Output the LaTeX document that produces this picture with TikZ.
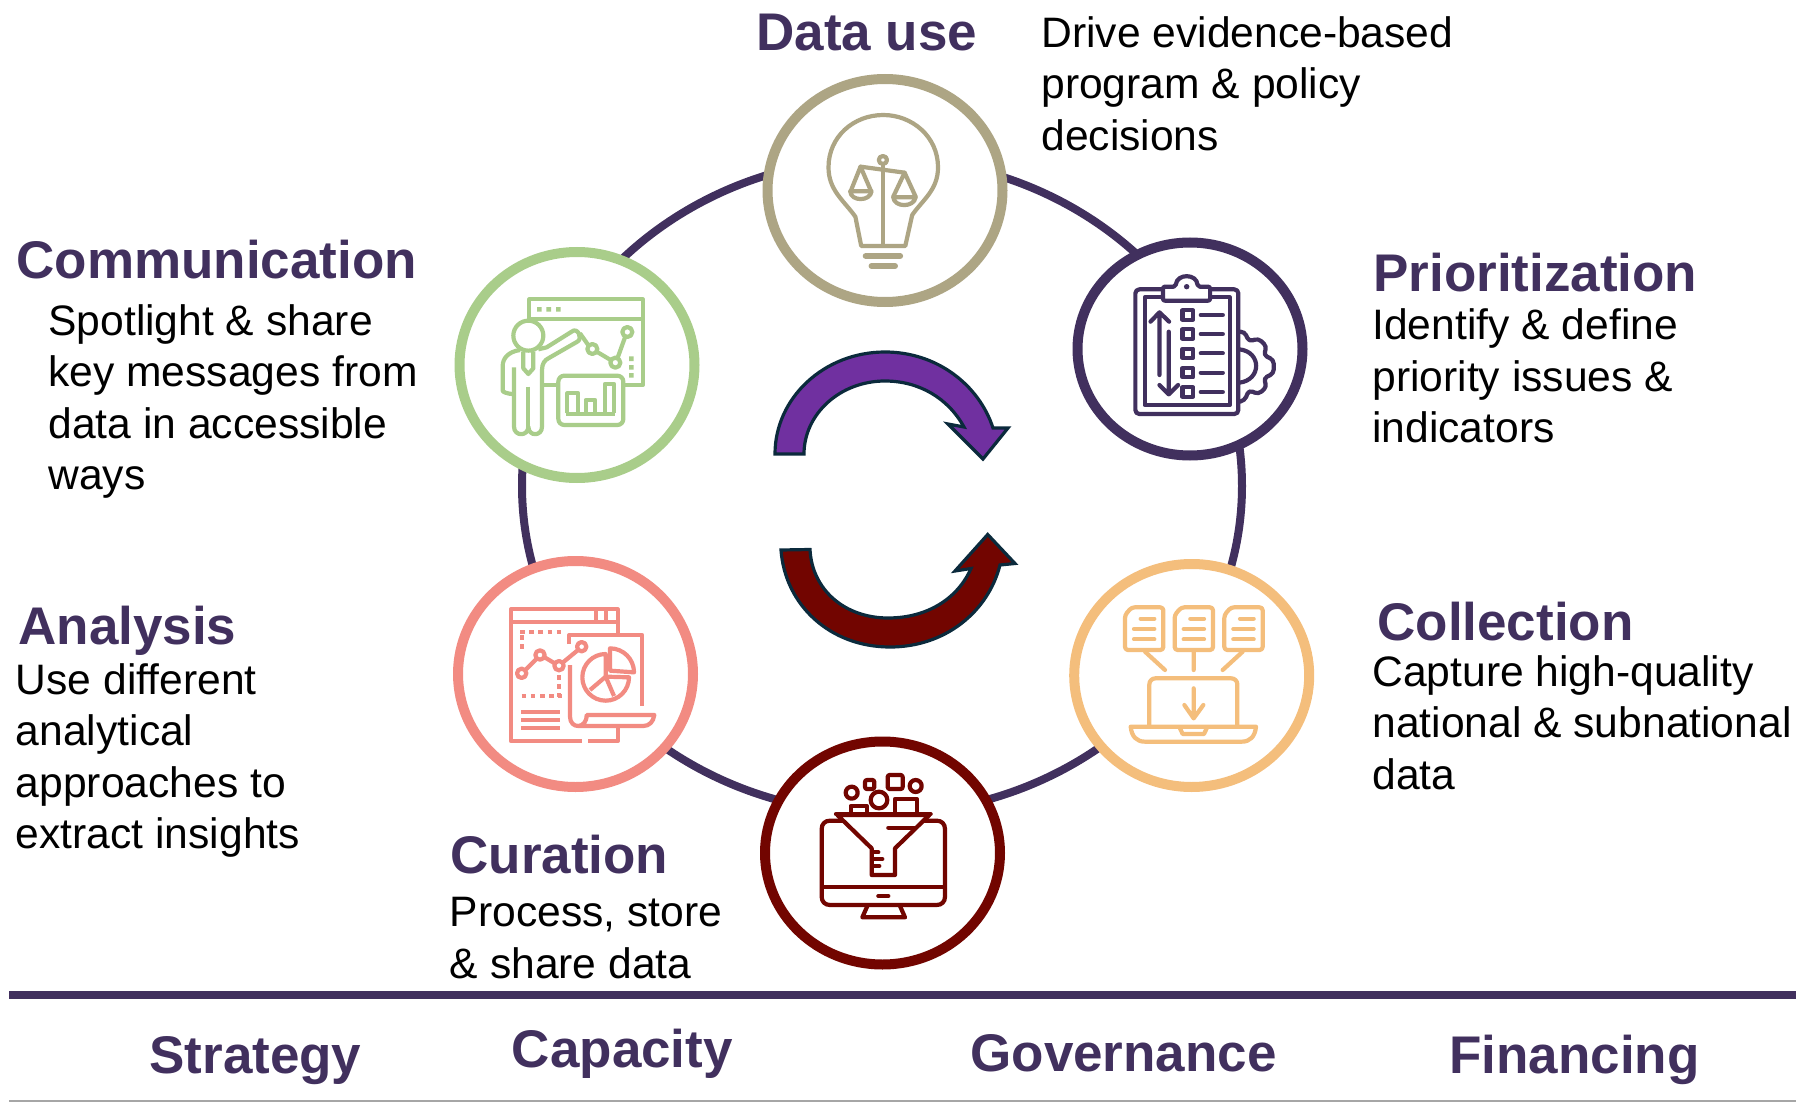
\documentclass[tikz,border=0pt]{standalone}
\usepackage{fontspec}
\setmainfont{Liberation Sans}
\usetikzlibrary{shapes.geometric}
\definecolor{ringc}{HTML}{41305E}
\definecolor{usec}{HTML}{ADA584}
\definecolor{commc}{HTML}{A9CD8A}
\definecolor{anac}{HTML}{F28B82}
\definecolor{curc}{HTML}{720500}
\definecolor{colc}{HTML}{F4BE7C}
\definecolor{purp}{HTML}{7030A0}
\definecolor{edgec}{HTML}{0B2A3C}
\tikzset{
  stage/.style={ellipse,draw=#1,fill=white,line width=5pt,inner sep=0pt},
  headtxt/.style={anchor=base west,inner sep=0pt,text=ringc,font=\fontsize{26.5}{30}\selectfont\bfseries},
  bodytxt/.style={anchor=base west,inner sep=0pt,align=left,text=black,font=\fontsize{21.3}{25.75}\selectfont},
  blockarrow/.style={draw=edgec,line width=1.6pt,line join=miter},
  icon/.style={line width=2.1pt,line join=round,line cap=round},
  zoomgrid/.style={x=0.16667pt,y=-0.16667pt},
}
\begin{document}
\begin{tikzpicture}[x=0.5pt,y=-0.5pt]
\useasboundingbox (0,0) rectangle (1796,1102);
% ring
\node[ellipse,draw=ringc,line width=4pt,minimum width=360pt,minimum height=328pt,inner sep=0pt] (ring) at (882,486) {};
% stages
\node[stage=usec,minimum width=117.5pt,minimum height=111.5pt] (use) at (885,190.5) {};
\node[stage=ringc,minimum width=112.5pt,minimum height=106.5pt] (prio) at (1190,349) {};
\node[stage=colc,minimum width=117.5pt,minimum height=111.5pt] (coll) at (1191.7,675.5) {};
\node[stage=curc,minimum width=117.5pt,minimum height=111.5pt] (cura) at (882.5,853) {};
\node[stage=anac,minimum width=117.5pt,minimum height=113pt] (ana) at (575.5,674) {};
\node[stage=commc,minimum width=117.5pt,minimum height=113pt] (comm) at (577,365) {};
% block arrows
\draw[blockarrow,fill=purp] (775,454) .. controls (775,398) and (824,352) .. (885,352)
  .. controls (937,352) and (979,385) .. (993,428) -- (1008,428) -- (983,459) -- (948,424) -- (964,427)
  .. controls (948,398) and (919,381) .. (885,381)
  .. controls (840,381) and (804,414) .. (804,454) -- cycle;
\draw[blockarrow,fill=curc] (781,550) .. controls (785,605) and (830,647) .. (890,647)
  .. controls (945,647) and (988,612) .. (1000,565) -- (1015,563.5) -- (987.7,534.5) -- (955,571) -- (971,568.5)
  .. controls (958,598) and (928,618) .. (888,618)
  .. controls (845,618) and (812,590) .. (810,549.5) -- cycle;
% bulb icon
\begin{scope}[shift={(740,60)},x=0.1722pt,y=-0.16667pt,icon,draw=usec]
\draw (352,558) -- (335,470) .. controls (300,420) and (257,390) .. (257,322) .. controls (257,230) and (330,165) .. (416,165) .. controls (500,165) and (575,230) .. (575,322) .. controls (575,390) and (530,420) .. (500,465) -- (480,558) -- cycle;
\draw[line width=3pt] (365,588) -- (465,588) (382,618) -- (450,618);
\draw (415,314) -- (415,555);
\draw (415,300) circle[radius=12];
\draw (350,320) -- (478,338);
\draw (322,392) -- (350,320) -- (380,392) (445,410) -- (478,338) -- (510,410);
\draw (320,394) -- (382,394) .. controls (378,425) and (322,425) .. (320,394);
\draw (445,412) -- (510,412) .. controls (505,443) and (448,443) .. (445,412);
\end{scope}
% clipboard icon
\begin{scope}[shift={(740,60)},x=0.1722pt,y=-0.16667pt,icon,draw=ringc]
\draw[rounded corners=2pt] (1228,688) -- (1148,688) -- (1148,1062) -- (1447,1062) -- (1447,688) -- (1365,688);
\draw (1228,712) -- (1175,712) -- (1175,1035) -- (1422,1035) -- (1422,712) -- (1365,712);
\draw[rounded corners=1pt] (1228,722) -- (1228,680) -- (1265,680) .. controls (1268,640) and (1326,640) .. (1329,680) -- (1365,680) -- (1365,722) -- cycle;
\fill[ringc] (1297,680) circle[radius=8];
\draw (1218,760) -- (1218,945) (1192,785) -- (1218,757) -- (1246,785);
\draw (1245,815) -- (1245,1000) (1218,975) -- (1245,1003) -- (1272,975);
\foreach \yy in {765,822,880,938,996} {
  \draw (1285,\yy-14) rectangle (1315,\yy+14);
  \draw (1338,\yy) -- (1402,\yy);
}
\draw (1450,868) .. controls (1515,875) and (1515,960) .. (1450,968);
\draw[rounded corners=2pt] (1450,815) -- (1465,815) -- (1478,845) -- (1505,835) -- (1530,860) -- (1520,885) -- (1550,900) -- (1550,940) -- (1520,955) -- (1530,980) -- (1505,1003) -- (1478,990) -- (1465,1022) -- (1450,1025);
\end{scope}
% presentation icon
\begin{scope}[shift={(440,230)},zoomgrid,icon,draw=commc,line cap=butt]
\draw (268,275) -- (268,208) -- (608,208) -- (608,465) -- (550,465) (350,465) -- (308,465);
\draw (268,266) -- (608,266);
\fill[commc] (291,231) rectangle (305,245) (319,231) rectangle (333,245) (348,231) rectangle (362,245);
\fill[commc] (567,379) rectangle (581,393) (567,405) rectangle (581,419) (567,429) rectangle (581,443);
\draw (420,310) -- (446,347) (470,365) -- (512,390) (533,383) -- (555,322);
\draw (457,357) circle[radius=15] (526,398) circle[radius=15] (562,306) circle[radius=15];
\draw (265,317) circle[x radius=45,y radius=45];
\draw[rounded corners=2pt] (240,360) .. controls (205,365) and (188,385) .. (188,420) -- (188,470) .. controls (188,485) and (200,492) .. (222,492);
\draw (222,412) -- (222,590) .. controls (222,620) and (265,620) .. (265,590) .. controls (265,620) and (306,620) .. (306,590) -- (306,420) .. controls (306,400) and (315,390) .. (325,385) -- (412,335) .. controls (430,325) and (412,290) .. (395,305) -- (320,352) -- (295,358);
\draw (250,365) -- (250,415) -- (265,432) -- (280,415) -- (280,365);
\draw (265,470) -- (265,595);
\draw[rounded corners=3pt] (355,437) rectangle (550,585);
\draw (382,550) -- (382,490) -- (415,490) -- (415,550) (437,550) -- (437,510) -- (465,510) -- (465,550) (495,550) -- (495,462) -- (522,462) -- (522,550);
\draw (378,552) -- (525,552);
\end{scope}
% report icon
\begin{scope}[shift={(440,540)},zoomgrid,icon,draw=anac,line cap=butt]
\draw (425,603) -- (213,603) -- (213,208) -- (533,208) -- (533,285) (533,560) -- (533,603) -- (443,603);
\draw (213,245) -- (533,245) (467,208) -- (467,245) (497,208) -- (497,245);
\draw[dash pattern=on 2.3pt off 2.3pt] (240,275) -- (365,275) (246,285) -- (246,335) (358,405) -- (358,472) (245,467) -- (365,467);
\draw (258,388) -- (288,358) (314,352) -- (344,370) (368,368) -- (414,330);
\draw (245,400) circle[radius=14] (300,345) circle[radius=14] (357,377) circle[radius=14] (425,320) circle[radius=14];
\draw (388,312) -- (388,285) -- (606,285) -- (606,497);
\draw (390,375) -- (390,530) .. controls (390,568) and (440,568) .. (440,525) -- (643,525) .. controls (640,545) and (628,558) .. (610,558) -- (415,558);
\draw (497,410) -- (497,342) arc[start angle=-90,end angle=-360,radius=70] -- cycle;
\draw (497,410) -- (450,450) (497,410) -- (522,468);
\draw (510,392) -- (510,325) arc[start angle=-90,end angle=0,radius=72] -- cycle;
\draw[line width=2pt] (243,516) -- (360,516) (243,540) -- (360,540) (243,564) -- (360,564);
\end{scope}
% funnel icon
\begin{scope}[shift={(750,730)},zoomgrid,icon,draw=curc]
\draw (240,272) -- (560,272) .. controls (575,272) and (585,282) .. (585,297) -- (585,500) .. controls (585,515) and (575,525) .. (560,525) -- (240,525) .. controls (225,525) and (215,515) .. (215,500) -- (215,297) .. controls (215,282) and (225,272) .. (240,272) -- cycle;
\draw (218,472) -- (582,472);
\draw (385,498) -- (415,498);
\draw (352,528) -- (337,562) -- (465,562) -- (450,528);
\draw[fill=white] (262,255) -- (365,355) -- (365,435) -- (435,435) -- (435,355) -- (538,255) -- cycle;
\draw (258,252) -- (542,252);
\draw (415,293) -- (495,293);
\draw (370,367) -- (385,367) (370,387) -- (397,387) (370,408) -- (388,408);
\draw (302,248) -- (302,228) -- (350,228) -- (350,248) (435,248) -- (435,207) -- (500,207) -- (500,248);
\draw (387,210) circle[radius=25] (305,188) circle[radius=18] (497,168) circle[radius=18];
\draw[rounded corners=1pt] (345,150) rectangle (373,177) (413,135) rectangle (458,177);
\end{scope}
% laptop icon
\begin{scope}[shift={(1060,550)},zoomgrid,icon,draw=colc]
\foreach \dx in {0,149,298} {
  \begin{scope}[xshift=\dx*0.16667pt]
  \draw[rounded corners=1.5pt] (215,172) -- (310,172) -- (310,300) -- (195,300) -- (195,195) -- cycle;
  \draw (242,206) -- (283,206) (222,237) -- (283,237) (222,268) -- (283,268);
  \end{scope}
}
\draw (255,305) -- (315,360) (401,305) -- (401,360) (548,305) -- (488,360);
\draw[rounded corners=3pt] (268,528) -- (268,385) -- (532,385) -- (532,528);
\draw (212,530) -- (588,530) .. controls (585,560) and (570,575) .. (545,575) -- (255,575) .. controls (230,575) and (215,560) .. (212,530) -- cycle;
\draw (360,535) -- (368,552) -- (432,552) -- (440,535);
\draw (401,415) -- (401,505) (373,465) -- (401,505) -- (430,465);
\end{scope}
% texts
\node[headtxt] (t1) at (756,50.5) {Data use};
\node[bodytxt] (b1) at (1041,150.5) {Drive evidence-based\\program \& policy\\decisions};
\node[headtxt] (t2) at (1373,291.5) {Prioritization};
\node[bodytxt] (b2) at (1372,442.5) {Identify \& define\\priority issues \&\\indicators};
\node[headtxt] (t3) at (1377,640.5) {Collection};
\node[bodytxt] (b3) at (1372,789) {Capture high-quality\\national \& subnational\\data};
\node[headtxt] (t4) at (450,873.5) {Curation};
\node[bodytxt] (b4) at (449.5,978) {Process, store\\\& share data};
\node[headtxt] (t5) at (18,644.5) {Analysis};
\node[bodytxt] (b5) at (15.5,848.5) {Use different\\analytical\\approaches to\\extract insights};
\node[headtxt] (t6) at (16,278.5) {Communication};
\node[bodytxt] (b6) at (48,489.5) {Spotlight \& share\\key messages from\\data in accessible\\ways};
% base
\coordinate (ruleL) at (9,995);
\coordinate (ruleR) at (1796,995);
\draw[ringc,line width=4pt] (ruleL) -- (ruleR);
\coordinate (footL) at (9,1101);
\coordinate (footR) at (1796,1101);
\draw[black!35,line width=0.7pt] (footL) -- (footR);
\node[headtxt] (f1) at (149,1073.5) {Strategy};
\node[headtxt] (f2) at (511.5,1067.5) {Capacity};
\node[headtxt] (f3) at (970,1071.5) {Governance};
\node[headtxt] (f4) at (1449,1073.5) {Financing};
\end{tikzpicture}
\end{document}
